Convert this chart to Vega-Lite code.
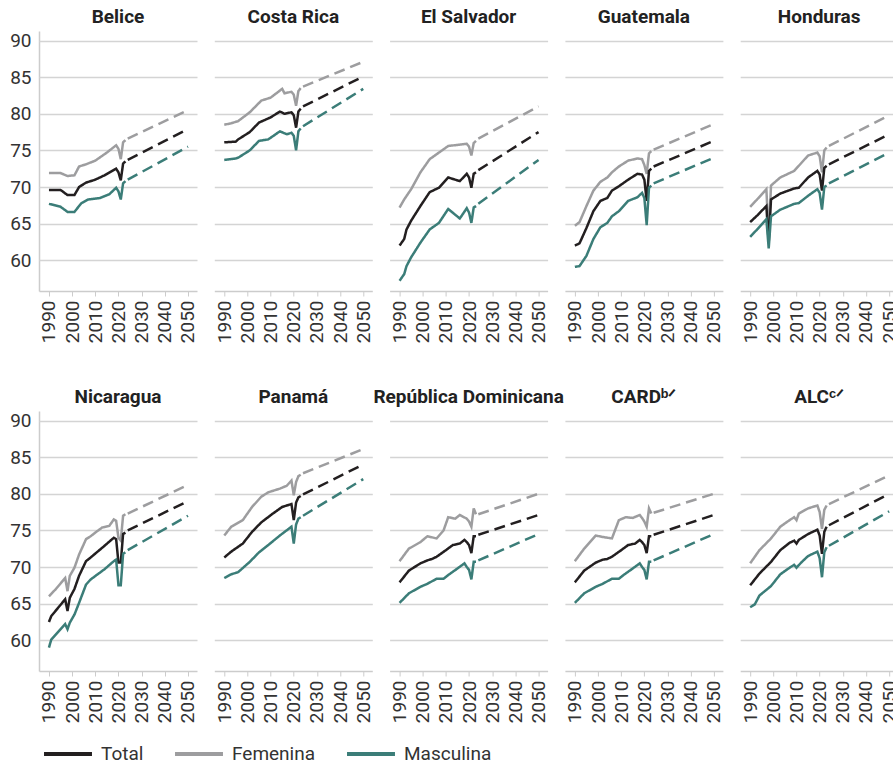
{
  "$schema": "https://vega.github.io/schema/vega-lite/v6.json",
  "background": "white",
  "padding": {"left": 9, "top": 8, "right": 5, "bottom": 5},
  "bounds": "flush",
  "data": {"values": [
    {"p":"Belice","s":"Femenina","t":"o","a":1990,"v":71.9},{"p":"Belice","s":"Femenina","t":"o","a":1995,"v":71.9},{"p":"Belice","s":"Femenina","t":"o","a":1998,"v":71.5},{"p":"Belice","s":"Femenina","t":"o","a":2001,"v":71.6},{"p":"Belice","s":"Femenina","t":"o","a":2003,"v":72.8},{"p":"Belice","s":"Femenina","t":"o","a":2006,"v":73.1},{"p":"Belice","s":"Femenina","t":"o","a":2010,"v":73.6},{"p":"Belice","s":"Femenina","t":"o","a":2015,"v":74.7},{"p":"Belice","s":"Femenina","t":"o","a":2019,"v":75.7},{"p":"Belice","s":"Femenina","t":"o","a":2020,"v":75.2},{"p":"Belice","s":"Femenina","t":"o","a":2021,"v":73.8},{"p":"Belice","s":"Femenina","t":"o","a":2022,"v":76.1},{"p":"Belice","s":"Femenina","t":"o","a":2023,"v":76.4},{"p":"Belice","s":"Femenina","t":"p","a":2024,"v":76.6},{"p":"Belice","s":"Femenina","t":"p","a":2050,"v":80.5},
    {"p":"Belice","s":"Total","t":"o","a":1990,"v":69.6},{"p":"Belice","s":"Total","t":"o","a":1995,"v":69.6},{"p":"Belice","s":"Total","t":"o","a":1998,"v":68.9},{"p":"Belice","s":"Total","t":"o","a":2001,"v":68.9},{"p":"Belice","s":"Total","t":"o","a":2003,"v":70.0},{"p":"Belice","s":"Total","t":"o","a":2006,"v":70.6},{"p":"Belice","s":"Total","t":"o","a":2010,"v":71.0},{"p":"Belice","s":"Total","t":"o","a":2014,"v":71.6},{"p":"Belice","s":"Total","t":"o","a":2019,"v":72.5},{"p":"Belice","s":"Total","t":"o","a":2020,"v":72.0},{"p":"Belice","s":"Total","t":"o","a":2021,"v":70.9},{"p":"Belice","s":"Total","t":"o","a":2022,"v":73.2},{"p":"Belice","s":"Total","t":"o","a":2023,"v":73.5},{"p":"Belice","s":"Total","t":"p","a":2024,"v":73.7},{"p":"Belice","s":"Total","t":"p","a":2050,"v":77.9},
    {"p":"Belice","s":"Masculina","t":"o","a":1990,"v":67.7},{"p":"Belice","s":"Masculina","t":"o","a":1995,"v":67.3},{"p":"Belice","s":"Masculina","t":"o","a":1998,"v":66.6},{"p":"Belice","s":"Masculina","t":"o","a":2001,"v":66.6},{"p":"Belice","s":"Masculina","t":"o","a":2004,"v":67.8},{"p":"Belice","s":"Masculina","t":"o","a":2007,"v":68.3},{"p":"Belice","s":"Masculina","t":"o","a":2012,"v":68.5},{"p":"Belice","s":"Masculina","t":"o","a":2016,"v":69.0},{"p":"Belice","s":"Masculina","t":"o","a":2019,"v":69.9},{"p":"Belice","s":"Masculina","t":"o","a":2020,"v":69.4},{"p":"Belice","s":"Masculina","t":"o","a":2021,"v":68.3},{"p":"Belice","s":"Masculina","t":"o","a":2022,"v":70.5},{"p":"Belice","s":"Masculina","t":"o","a":2023,"v":70.8},{"p":"Belice","s":"Masculina","t":"p","a":2024,"v":71.0},{"p":"Belice","s":"Masculina","t":"p","a":2050,"v":75.5},

    {"p":"Costa Rica","s":"Femenina","t":"o","a":1990,"v":78.5},{"p":"Costa Rica","s":"Femenina","t":"o","a":1993,"v":78.7},{"p":"Costa Rica","s":"Femenina","t":"o","a":1996,"v":79.0},{"p":"Costa Rica","s":"Femenina","t":"o","a":2001,"v":80.2},{"p":"Costa Rica","s":"Femenina","t":"o","a":2006,"v":81.8},{"p":"Costa Rica","s":"Femenina","t":"o","a":2010,"v":82.2},{"p":"Costa Rica","s":"Femenina","t":"o","a":2015,"v":83.4},{"p":"Costa Rica","s":"Femenina","t":"o","a":2016,"v":82.8},{"p":"Costa Rica","s":"Femenina","t":"o","a":2019,"v":83.0},{"p":"Costa Rica","s":"Femenina","t":"o","a":2020,"v":82.6},{"p":"Costa Rica","s":"Femenina","t":"o","a":2021,"v":81.1},{"p":"Costa Rica","s":"Femenina","t":"o","a":2022,"v":83.1},{"p":"Costa Rica","s":"Femenina","t":"o","a":2023,"v":83.5},{"p":"Costa Rica","s":"Femenina","t":"p","a":2024,"v":83.7},{"p":"Costa Rica","s":"Femenina","t":"p","a":2050,"v":87.1},
    {"p":"Costa Rica","s":"Total","t":"o","a":1990,"v":76.1},{"p":"Costa Rica","s":"Total","t":"o","a":1995,"v":76.2},{"p":"Costa Rica","s":"Total","t":"o","a":1996,"v":76.5},{"p":"Costa Rica","s":"Total","t":"o","a":2001,"v":77.5},{"p":"Costa Rica","s":"Total","t":"o","a":2005,"v":78.8},{"p":"Costa Rica","s":"Total","t":"o","a":2010,"v":79.5},{"p":"Costa Rica","s":"Total","t":"o","a":2014,"v":80.3},{"p":"Costa Rica","s":"Total","t":"o","a":2016,"v":80.0},{"p":"Costa Rica","s":"Total","t":"o","a":2019,"v":80.2},{"p":"Costa Rica","s":"Total","t":"o","a":2020,"v":79.8},{"p":"Costa Rica","s":"Total","t":"o","a":2021,"v":78.1},{"p":"Costa Rica","s":"Total","t":"o","a":2022,"v":80.3},{"p":"Costa Rica","s":"Total","t":"o","a":2023,"v":80.7},{"p":"Costa Rica","s":"Total","t":"p","a":2024,"v":81.0},{"p":"Costa Rica","s":"Total","t":"p","a":2050,"v":85.1},
    {"p":"Costa Rica","s":"Masculina","t":"o","a":1990,"v":73.7},{"p":"Costa Rica","s":"Masculina","t":"o","a":1995,"v":73.9},{"p":"Costa Rica","s":"Masculina","t":"o","a":1996,"v":74.0},{"p":"Costa Rica","s":"Masculina","t":"o","a":2001,"v":75.0},{"p":"Costa Rica","s":"Masculina","t":"o","a":2005,"v":76.3},{"p":"Costa Rica","s":"Masculina","t":"o","a":2009,"v":76.5},{"p":"Costa Rica","s":"Masculina","t":"o","a":2014,"v":77.6},{"p":"Costa Rica","s":"Masculina","t":"o","a":2017,"v":77.2},{"p":"Costa Rica","s":"Masculina","t":"o","a":2019,"v":77.4},{"p":"Costa Rica","s":"Masculina","t":"o","a":2020,"v":77.0},{"p":"Costa Rica","s":"Masculina","t":"o","a":2021,"v":75.0},{"p":"Costa Rica","s":"Masculina","t":"o","a":2022,"v":77.6},{"p":"Costa Rica","s":"Masculina","t":"o","a":2023,"v":78.0},{"p":"Costa Rica","s":"Masculina","t":"p","a":2024,"v":78.3},{"p":"Costa Rica","s":"Masculina","t":"p","a":2050,"v":83.4},

    {"p":"El Salvador","s":"Femenina","t":"o","a":1990,"v":67.2},{"p":"El Salvador","s":"Femenina","t":"o","a":1992,"v":68.3},{"p":"El Salvador","s":"Femenina","t":"o","a":1995,"v":69.7},{"p":"El Salvador","s":"Femenina","t":"o","a":1999,"v":72.0},{"p":"El Salvador","s":"Femenina","t":"o","a":2003,"v":73.8},{"p":"El Salvador","s":"Femenina","t":"o","a":2007,"v":74.7},{"p":"El Salvador","s":"Femenina","t":"o","a":2011,"v":75.6},{"p":"El Salvador","s":"Femenina","t":"o","a":2019,"v":75.9},{"p":"El Salvador","s":"Femenina","t":"o","a":2020,"v":75.5},{"p":"El Salvador","s":"Femenina","t":"o","a":2021,"v":74.3},{"p":"El Salvador","s":"Femenina","t":"o","a":2022,"v":76.0},{"p":"El Salvador","s":"Femenina","t":"o","a":2023,"v":76.3},{"p":"El Salvador","s":"Femenina","t":"p","a":2024,"v":76.6},{"p":"El Salvador","s":"Femenina","t":"p","a":2050,"v":81.0},
    {"p":"El Salvador","s":"Total","t":"o","a":1990,"v":62.0},{"p":"El Salvador","s":"Total","t":"o","a":1992,"v":62.9},{"p":"El Salvador","s":"Total","t":"o","a":1993,"v":64.2},{"p":"El Salvador","s":"Total","t":"o","a":1995,"v":65.4},{"p":"El Salvador","s":"Total","t":"o","a":1999,"v":67.4},{"p":"El Salvador","s":"Total","t":"o","a":2003,"v":69.3},{"p":"El Salvador","s":"Total","t":"o","a":2007,"v":69.9},{"p":"El Salvador","s":"Total","t":"o","a":2011,"v":71.3},{"p":"El Salvador","s":"Total","t":"o","a":2016,"v":70.8},{"p":"El Salvador","s":"Total","t":"o","a":2019,"v":71.8},{"p":"El Salvador","s":"Total","t":"o","a":2020,"v":71.3},{"p":"El Salvador","s":"Total","t":"o","a":2021,"v":69.9},{"p":"El Salvador","s":"Total","t":"o","a":2022,"v":71.8},{"p":"El Salvador","s":"Total","t":"o","a":2023,"v":72.0},{"p":"El Salvador","s":"Total","t":"p","a":2024,"v":72.3},{"p":"El Salvador","s":"Total","t":"p","a":2050,"v":77.5},
    {"p":"El Salvador","s":"Masculina","t":"o","a":1990,"v":57.2},{"p":"El Salvador","s":"Masculina","t":"o","a":1992,"v":58.1},{"p":"El Salvador","s":"Masculina","t":"o","a":1993,"v":59.2},{"p":"El Salvador","s":"Masculina","t":"o","a":1995,"v":60.4},{"p":"El Salvador","s":"Masculina","t":"o","a":1999,"v":62.4},{"p":"El Salvador","s":"Masculina","t":"o","a":2003,"v":64.2},{"p":"El Salvador","s":"Masculina","t":"o","a":2007,"v":65.1},{"p":"El Salvador","s":"Masculina","t":"o","a":2011,"v":67.0},{"p":"El Salvador","s":"Masculina","t":"o","a":2016,"v":65.7},{"p":"El Salvador","s":"Masculina","t":"o","a":2019,"v":67.1},{"p":"El Salvador","s":"Masculina","t":"o","a":2020,"v":66.5},{"p":"El Salvador","s":"Masculina","t":"o","a":2021,"v":65.1},{"p":"El Salvador","s":"Masculina","t":"o","a":2022,"v":67.2},{"p":"El Salvador","s":"Masculina","t":"o","a":2023,"v":67.4},{"p":"El Salvador","s":"Masculina","t":"p","a":2024,"v":67.7},{"p":"El Salvador","s":"Masculina","t":"p","a":2050,"v":73.7},

    {"p":"Guatemala","s":"Femenina","t":"o","a":1990,"v":64.7},{"p":"Guatemala","s":"Femenina","t":"o","a":1992,"v":65.2},{"p":"Guatemala","s":"Femenina","t":"o","a":1995,"v":67.4},{"p":"Guatemala","s":"Femenina","t":"o","a":1998,"v":69.5},{"p":"Guatemala","s":"Femenina","t":"o","a":2001,"v":70.7},{"p":"Guatemala","s":"Femenina","t":"o","a":2004,"v":71.3},{"p":"Guatemala","s":"Femenina","t":"o","a":2006,"v":72.0},{"p":"Guatemala","s":"Femenina","t":"o","a":2009,"v":72.8},{"p":"Guatemala","s":"Femenina","t":"o","a":2013,"v":73.6},{"p":"Guatemala","s":"Femenina","t":"o","a":2017,"v":73.9},{"p":"Guatemala","s":"Femenina","t":"o","a":2019,"v":73.8},{"p":"Guatemala","s":"Femenina","t":"o","a":2020,"v":73.0},{"p":"Guatemala","s":"Femenina","t":"o","a":2021,"v":71.8},{"p":"Guatemala","s":"Femenina","t":"o","a":2022,"v":74.6},{"p":"Guatemala","s":"Femenina","t":"o","a":2023,"v":74.9},{"p":"Guatemala","s":"Femenina","t":"p","a":2024,"v":75.1},{"p":"Guatemala","s":"Femenina","t":"p","a":2050,"v":78.6},
    {"p":"Guatemala","s":"Total","t":"o","a":1990,"v":62.0},{"p":"Guatemala","s":"Total","t":"o","a":1992,"v":62.3},{"p":"Guatemala","s":"Total","t":"o","a":1995,"v":64.4},{"p":"Guatemala","s":"Total","t":"o","a":1998,"v":66.7},{"p":"Guatemala","s":"Total","t":"o","a":2001,"v":68.1},{"p":"Guatemala","s":"Total","t":"o","a":2004,"v":68.5},{"p":"Guatemala","s":"Total","t":"o","a":2006,"v":69.5},{"p":"Guatemala","s":"Total","t":"o","a":2009,"v":70.1},{"p":"Guatemala","s":"Total","t":"o","a":2013,"v":71.0},{"p":"Guatemala","s":"Total","t":"o","a":2017,"v":71.8},{"p":"Guatemala","s":"Total","t":"o","a":2019,"v":71.7},{"p":"Guatemala","s":"Total","t":"o","a":2020,"v":71.0},{"p":"Guatemala","s":"Total","t":"o","a":2021,"v":68.1},{"p":"Guatemala","s":"Total","t":"o","a":2022,"v":72.2},{"p":"Guatemala","s":"Total","t":"o","a":2023,"v":72.5},{"p":"Guatemala","s":"Total","t":"p","a":2024,"v":72.8},{"p":"Guatemala","s":"Total","t":"p","a":2050,"v":76.3},
    {"p":"Guatemala","s":"Masculina","t":"o","a":1990,"v":59.1},{"p":"Guatemala","s":"Masculina","t":"o","a":1992,"v":59.2},{"p":"Guatemala","s":"Masculina","t":"o","a":1995,"v":60.6},{"p":"Guatemala","s":"Masculina","t":"o","a":1998,"v":62.9},{"p":"Guatemala","s":"Masculina","t":"o","a":2001,"v":64.5},{"p":"Guatemala","s":"Masculina","t":"o","a":2004,"v":65.1},{"p":"Guatemala","s":"Masculina","t":"o","a":2006,"v":66.0},{"p":"Guatemala","s":"Masculina","t":"o","a":2009,"v":66.7},{"p":"Guatemala","s":"Masculina","t":"o","a":2013,"v":68.1},{"p":"Guatemala","s":"Masculina","t":"o","a":2017,"v":68.6},{"p":"Guatemala","s":"Masculina","t":"o","a":2019,"v":69.2},{"p":"Guatemala","s":"Masculina","t":"o","a":2020,"v":68.5},{"p":"Guatemala","s":"Masculina","t":"o","a":2021,"v":64.8},{"p":"Guatemala","s":"Masculina","t":"o","a":2022,"v":69.9},{"p":"Guatemala","s":"Masculina","t":"o","a":2023,"v":70.2},{"p":"Guatemala","s":"Masculina","t":"p","a":2024,"v":70.5},{"p":"Guatemala","s":"Masculina","t":"p","a":2050,"v":74.0},

    {"p":"Honduras","s":"Femenina","t":"o","a":1990,"v":67.3},{"p":"Honduras","s":"Femenina","t":"o","a":1993,"v":68.3},{"p":"Honduras","s":"Femenina","t":"o","a":1997,"v":69.7},{"p":"Honduras","s":"Femenina","t":"o","a":1998,"v":63.1},{"p":"Honduras","s":"Femenina","t":"o","a":1999,"v":70.2},{"p":"Honduras","s":"Femenina","t":"o","a":2003,"v":71.3},{"p":"Honduras","s":"Femenina","t":"o","a":2009,"v":72.2},{"p":"Honduras","s":"Femenina","t":"o","a":2011,"v":72.9},{"p":"Honduras","s":"Femenina","t":"o","a":2015,"v":74.3},{"p":"Honduras","s":"Femenina","t":"o","a":2019,"v":74.7},{"p":"Honduras","s":"Femenina","t":"o","a":2020,"v":74.2},{"p":"Honduras","s":"Femenina","t":"o","a":2021,"v":72.0},{"p":"Honduras","s":"Femenina","t":"o","a":2022,"v":75.0},{"p":"Honduras","s":"Femenina","t":"o","a":2023,"v":75.4},{"p":"Honduras","s":"Femenina","t":"p","a":2024,"v":75.6},{"p":"Honduras","s":"Femenina","t":"p","a":2050,"v":79.8},
    {"p":"Honduras","s":"Total","t":"o","a":1990,"v":65.2},{"p":"Honduras","s":"Total","t":"o","a":1993,"v":66.1},{"p":"Honduras","s":"Total","t":"o","a":1997,"v":67.4},{"p":"Honduras","s":"Total","t":"o","a":1998,"v":62.4},{"p":"Honduras","s":"Total","t":"o","a":1999,"v":68.3},{"p":"Honduras","s":"Total","t":"o","a":2003,"v":69.1},{"p":"Honduras","s":"Total","t":"o","a":2009,"v":69.8},{"p":"Honduras","s":"Total","t":"o","a":2011,"v":69.9},{"p":"Honduras","s":"Total","t":"o","a":2015,"v":71.3},{"p":"Honduras","s":"Total","t":"o","a":2019,"v":72.2},{"p":"Honduras","s":"Total","t":"o","a":2020,"v":71.7},{"p":"Honduras","s":"Total","t":"o","a":2021,"v":69.5},{"p":"Honduras","s":"Total","t":"o","a":2022,"v":72.6},{"p":"Honduras","s":"Total","t":"o","a":2023,"v":72.9},{"p":"Honduras","s":"Total","t":"p","a":2024,"v":73.1},{"p":"Honduras","s":"Total","t":"p","a":2050,"v":77.2},
    {"p":"Honduras","s":"Masculina","t":"o","a":1990,"v":63.2},{"p":"Honduras","s":"Masculina","t":"o","a":1993,"v":64.2},{"p":"Honduras","s":"Masculina","t":"o","a":1997,"v":65.6},{"p":"Honduras","s":"Masculina","t":"o","a":1998,"v":61.6},{"p":"Honduras","s":"Masculina","t":"o","a":1999,"v":66.0},{"p":"Honduras","s":"Masculina","t":"o","a":2003,"v":66.9},{"p":"Honduras","s":"Masculina","t":"o","a":2009,"v":67.7},{"p":"Honduras","s":"Masculina","t":"o","a":2011,"v":67.8},{"p":"Honduras","s":"Masculina","t":"o","a":2015,"v":68.8},{"p":"Honduras","s":"Masculina","t":"o","a":2019,"v":69.7},{"p":"Honduras","s":"Masculina","t":"o","a":2020,"v":69.2},{"p":"Honduras","s":"Masculina","t":"o","a":2021,"v":66.9},{"p":"Honduras","s":"Masculina","t":"o","a":2022,"v":70.0},{"p":"Honduras","s":"Masculina","t":"o","a":2023,"v":70.2},{"p":"Honduras","s":"Masculina","t":"p","a":2024,"v":70.5},{"p":"Honduras","s":"Masculina","t":"p","a":2050,"v":74.7},

    {"p":"Nicaragua","s":"Femenina","t":"o","a":1990,"v":66.0},{"p":"Nicaragua","s":"Femenina","t":"o","a":1993,"v":67.0},{"p":"Nicaragua","s":"Femenina","t":"o","a":1997,"v":68.5},{"p":"Nicaragua","s":"Femenina","t":"o","a":1998,"v":66.7},{"p":"Nicaragua","s":"Femenina","t":"o","a":1999,"v":68.8},{"p":"Nicaragua","s":"Femenina","t":"o","a":2001,"v":69.9},{"p":"Nicaragua","s":"Femenina","t":"o","a":2003,"v":71.7},{"p":"Nicaragua","s":"Femenina","t":"o","a":2006,"v":73.8},{"p":"Nicaragua","s":"Femenina","t":"o","a":2008,"v":74.2},{"p":"Nicaragua","s":"Femenina","t":"o","a":2010,"v":74.7},{"p":"Nicaragua","s":"Femenina","t":"o","a":2013,"v":75.4},{"p":"Nicaragua","s":"Femenina","t":"o","a":2016,"v":75.6},{"p":"Nicaragua","s":"Femenina","t":"o","a":2018,"v":76.5},{"p":"Nicaragua","s":"Femenina","t":"o","a":2019,"v":76.3},{"p":"Nicaragua","s":"Femenina","t":"o","a":2020,"v":74.0},{"p":"Nicaragua","s":"Femenina","t":"o","a":2021,"v":73.6},{"p":"Nicaragua","s":"Femenina","t":"o","a":2022,"v":77.0},{"p":"Nicaragua","s":"Femenina","t":"o","a":2023,"v":77.2},{"p":"Nicaragua","s":"Femenina","t":"p","a":2024,"v":77.3},{"p":"Nicaragua","s":"Femenina","t":"p","a":2050,"v":81.2},
    {"p":"Nicaragua","s":"Total","t":"o","a":1990,"v":62.5},{"p":"Nicaragua","s":"Total","t":"o","a":1991,"v":63.3},{"p":"Nicaragua","s":"Total","t":"o","a":1997,"v":65.6},{"p":"Nicaragua","s":"Total","t":"o","a":1998,"v":64.0},{"p":"Nicaragua","s":"Total","t":"o","a":1999,"v":65.8},{"p":"Nicaragua","s":"Total","t":"o","a":2001,"v":67.0},{"p":"Nicaragua","s":"Total","t":"o","a":2003,"v":68.8},{"p":"Nicaragua","s":"Total","t":"o","a":2006,"v":70.8},{"p":"Nicaragua","s":"Total","t":"o","a":2008,"v":71.3},{"p":"Nicaragua","s":"Total","t":"o","a":2011,"v":72.1},{"p":"Nicaragua","s":"Total","t":"o","a":2014,"v":72.9},{"p":"Nicaragua","s":"Total","t":"o","a":2018,"v":74.0},{"p":"Nicaragua","s":"Total","t":"o","a":2019,"v":73.8},{"p":"Nicaragua","s":"Total","t":"o","a":2020,"v":70.6},{"p":"Nicaragua","s":"Total","t":"o","a":2021,"v":70.6},{"p":"Nicaragua","s":"Total","t":"o","a":2022,"v":74.5},{"p":"Nicaragua","s":"Total","t":"o","a":2023,"v":74.7},{"p":"Nicaragua","s":"Total","t":"p","a":2024,"v":75.0},{"p":"Nicaragua","s":"Total","t":"p","a":2050,"v":79.0},
    {"p":"Nicaragua","s":"Masculina","t":"o","a":1990,"v":59.0},{"p":"Nicaragua","s":"Masculina","t":"o","a":1991,"v":60.1},{"p":"Nicaragua","s":"Masculina","t":"o","a":1997,"v":62.2},{"p":"Nicaragua","s":"Masculina","t":"o","a":1998,"v":61.5},{"p":"Nicaragua","s":"Masculina","t":"o","a":1999,"v":62.4},{"p":"Nicaragua","s":"Masculina","t":"o","a":2001,"v":63.5},{"p":"Nicaragua","s":"Masculina","t":"o","a":2003,"v":65.1},{"p":"Nicaragua","s":"Masculina","t":"o","a":2006,"v":67.6},{"p":"Nicaragua","s":"Masculina","t":"o","a":2008,"v":68.3},{"p":"Nicaragua","s":"Masculina","t":"o","a":2011,"v":69.0},{"p":"Nicaragua","s":"Masculina","t":"o","a":2014,"v":69.7},{"p":"Nicaragua","s":"Masculina","t":"o","a":2018,"v":70.8},{"p":"Nicaragua","s":"Masculina","t":"o","a":2019,"v":71.0},{"p":"Nicaragua","s":"Masculina","t":"o","a":2020,"v":67.5},{"p":"Nicaragua","s":"Masculina","t":"o","a":2021,"v":67.5},{"p":"Nicaragua","s":"Masculina","t":"o","a":2022,"v":71.8},{"p":"Nicaragua","s":"Masculina","t":"o","a":2023,"v":72.0},{"p":"Nicaragua","s":"Masculina","t":"p","a":2024,"v":72.3},{"p":"Nicaragua","s":"Masculina","t":"p","a":2050,"v":77.0},

    {"p":"Panamá","s":"Femenina","t":"o","a":1990,"v":74.3},{"p":"Panamá","s":"Femenina","t":"o","a":1993,"v":75.5},{"p":"Panamá","s":"Femenina","t":"o","a":1998,"v":76.4},{"p":"Panamá","s":"Femenina","t":"o","a":2002,"v":78.2},{"p":"Panamá","s":"Femenina","t":"o","a":2006,"v":79.6},{"p":"Panamá","s":"Femenina","t":"o","a":2009,"v":80.2},{"p":"Panamá","s":"Femenina","t":"o","a":2014,"v":80.7},{"p":"Panamá","s":"Femenina","t":"o","a":2017,"v":81.1},{"p":"Panamá","s":"Femenina","t":"o","a":2019,"v":81.8},{"p":"Panamá","s":"Femenina","t":"o","a":2020,"v":79.8},{"p":"Panamá","s":"Femenina","t":"o","a":2021,"v":81.6},{"p":"Panamá","s":"Femenina","t":"o","a":2022,"v":82.4},{"p":"Panamá","s":"Femenina","t":"o","a":2023,"v":82.6},{"p":"Panamá","s":"Femenina","t":"p","a":2024,"v":82.8},{"p":"Panamá","s":"Femenina","t":"p","a":2050,"v":86.1},
    {"p":"Panamá","s":"Total","t":"o","a":1990,"v":71.3},{"p":"Panamá","s":"Total","t":"o","a":1993,"v":72.1},{"p":"Panamá","s":"Total","t":"o","a":1998,"v":73.2},{"p":"Panamá","s":"Total","t":"o","a":2002,"v":74.8},{"p":"Panamá","s":"Total","t":"o","a":2006,"v":76.1},{"p":"Panamá","s":"Total","t":"o","a":2011,"v":77.3},{"p":"Panamá","s":"Total","t":"o","a":2015,"v":78.2},{"p":"Panamá","s":"Total","t":"o","a":2019,"v":78.6},{"p":"Panamá","s":"Total","t":"o","a":2020,"v":76.4},{"p":"Panamá","s":"Total","t":"o","a":2021,"v":78.8},{"p":"Panamá","s":"Total","t":"o","a":2022,"v":79.5},{"p":"Panamá","s":"Total","t":"o","a":2023,"v":79.7},{"p":"Panamá","s":"Total","t":"p","a":2024,"v":79.9},{"p":"Panamá","s":"Total","t":"p","a":2050,"v":84.0},
    {"p":"Panamá","s":"Masculina","t":"o","a":1990,"v":68.5},{"p":"Panamá","s":"Masculina","t":"o","a":1993,"v":69.0},{"p":"Panamá","s":"Masculina","t":"o","a":1996,"v":69.3},{"p":"Panamá","s":"Masculina","t":"o","a":2001,"v":70.7},{"p":"Panamá","s":"Masculina","t":"o","a":2005,"v":72.0},{"p":"Panamá","s":"Masculina","t":"o","a":2009,"v":73.0},{"p":"Panamá","s":"Masculina","t":"o","a":2014,"v":74.3},{"p":"Panamá","s":"Masculina","t":"o","a":2019,"v":75.5},{"p":"Panamá","s":"Masculina","t":"o","a":2020,"v":73.2},{"p":"Panamá","s":"Masculina","t":"o","a":2021,"v":75.8},{"p":"Panamá","s":"Masculina","t":"o","a":2022,"v":76.6},{"p":"Panamá","s":"Masculina","t":"o","a":2023,"v":76.8},{"p":"Panamá","s":"Masculina","t":"p","a":2024,"v":77.0},{"p":"Panamá","s":"Masculina","t":"p","a":2050,"v":82.0},

    {"p":"República Dominicana","s":"Femenina","t":"o","a":1990,"v":70.8},{"p":"República Dominicana","s":"Femenina","t":"o","a":1994,"v":72.5},{"p":"República Dominicana","s":"Femenina","t":"o","a":1999,"v":73.4},{"p":"República Dominicana","s":"Femenina","t":"o","a":2002,"v":74.2},{"p":"República Dominicana","s":"Femenina","t":"o","a":2006,"v":73.9},{"p":"República Dominicana","s":"Femenina","t":"o","a":2009,"v":75.0},{"p":"República Dominicana","s":"Femenina","t":"o","a":2011,"v":76.8},{"p":"República Dominicana","s":"Femenina","t":"o","a":2014,"v":76.6},{"p":"República Dominicana","s":"Femenina","t":"o","a":2016,"v":77.1},{"p":"República Dominicana","s":"Femenina","t":"o","a":2019,"v":76.6},{"p":"República Dominicana","s":"Femenina","t":"o","a":2020,"v":76.2},{"p":"República Dominicana","s":"Femenina","t":"o","a":2021,"v":75.5},{"p":"República Dominicana","s":"Femenina","t":"o","a":2022,"v":78.0},{"p":"República Dominicana","s":"Femenina","t":"o","a":2023,"v":77.2},{"p":"República Dominicana","s":"Femenina","t":"p","a":2024,"v":77.2},{"p":"República Dominicana","s":"Femenina","t":"p","a":2050,"v":80.0},
    {"p":"República Dominicana","s":"Total","t":"o","a":1990,"v":67.9},{"p":"República Dominicana","s":"Total","t":"o","a":1994,"v":69.5},{"p":"República Dominicana","s":"Total","t":"o","a":1999,"v":70.5},{"p":"República Dominicana","s":"Total","t":"o","a":2002,"v":70.9},{"p":"República Dominicana","s":"Total","t":"o","a":2004,"v":71.1},{"p":"República Dominicana","s":"Total","t":"o","a":2006,"v":71.4},{"p":"República Dominicana","s":"Total","t":"o","a":2010,"v":72.3},{"p":"República Dominicana","s":"Total","t":"o","a":2013,"v":73.0},{"p":"República Dominicana","s":"Total","t":"o","a":2016,"v":73.2},{"p":"República Dominicana","s":"Total","t":"o","a":2018,"v":73.7},{"p":"República Dominicana","s":"Total","t":"o","a":2019,"v":73.4},{"p":"República Dominicana","s":"Total","t":"o","a":2020,"v":73.0},{"p":"República Dominicana","s":"Total","t":"o","a":2021,"v":71.9},{"p":"República Dominicana","s":"Total","t":"o","a":2022,"v":74.2},{"p":"República Dominicana","s":"Total","t":"o","a":2023,"v":74.2},{"p":"República Dominicana","s":"Total","t":"p","a":2024,"v":74.4},{"p":"República Dominicana","s":"Total","t":"p","a":2050,"v":77.1},
    {"p":"República Dominicana","s":"Masculina","t":"o","a":1990,"v":65.1},{"p":"República Dominicana","s":"Masculina","t":"o","a":1994,"v":66.4},{"p":"República Dominicana","s":"Masculina","t":"o","a":1999,"v":67.3},{"p":"República Dominicana","s":"Masculina","t":"o","a":2002,"v":67.7},{"p":"República Dominicana","s":"Masculina","t":"o","a":2006,"v":68.4},{"p":"República Dominicana","s":"Masculina","t":"o","a":2009,"v":68.4},{"p":"República Dominicana","s":"Masculina","t":"o","a":2011,"v":68.9},{"p":"República Dominicana","s":"Masculina","t":"o","a":2015,"v":69.8},{"p":"República Dominicana","s":"Masculina","t":"o","a":2018,"v":70.5},{"p":"República Dominicana","s":"Masculina","t":"o","a":2019,"v":70.0},{"p":"República Dominicana","s":"Masculina","t":"o","a":2020,"v":69.6},{"p":"República Dominicana","s":"Masculina","t":"o","a":2021,"v":68.3},{"p":"República Dominicana","s":"Masculina","t":"o","a":2022,"v":70.7},{"p":"República Dominicana","s":"Masculina","t":"o","a":2023,"v":70.7},{"p":"República Dominicana","s":"Masculina","t":"p","a":2024,"v":70.9},{"p":"República Dominicana","s":"Masculina","t":"p","a":2050,"v":74.5},

    {"p":"CARD","s":"Femenina","t":"o","a":1990,"v":70.8},{"p":"CARD","s":"Femenina","t":"o","a":1994,"v":72.5},{"p":"CARD","s":"Femenina","t":"o","a":1999,"v":74.3},{"p":"CARD","s":"Femenina","t":"o","a":2002,"v":74.1},{"p":"CARD","s":"Femenina","t":"o","a":2006,"v":73.9},{"p":"CARD","s":"Femenina","t":"o","a":2009,"v":76.4},{"p":"CARD","s":"Femenina","t":"o","a":2012,"v":76.8},{"p":"CARD","s":"Femenina","t":"o","a":2015,"v":76.7},{"p":"CARD","s":"Femenina","t":"o","a":2018,"v":77.1},{"p":"CARD","s":"Femenina","t":"o","a":2019,"v":76.7},{"p":"CARD","s":"Femenina","t":"o","a":2020,"v":76.2},{"p":"CARD","s":"Femenina","t":"o","a":2021,"v":75.5},{"p":"CARD","s":"Femenina","t":"o","a":2022,"v":78.0},{"p":"CARD","s":"Femenina","t":"o","a":2023,"v":77.3},{"p":"CARD","s":"Femenina","t":"p","a":2024,"v":77.4},{"p":"CARD","s":"Femenina","t":"p","a":2050,"v":80.0},
    {"p":"CARD","s":"Total","t":"o","a":1990,"v":67.9},{"p":"CARD","s":"Total","t":"o","a":1994,"v":69.5},{"p":"CARD","s":"Total","t":"o","a":1999,"v":70.6},{"p":"CARD","s":"Total","t":"o","a":2002,"v":71.0},{"p":"CARD","s":"Total","t":"o","a":2004,"v":71.1},{"p":"CARD","s":"Total","t":"o","a":2006,"v":71.4},{"p":"CARD","s":"Total","t":"o","a":2010,"v":72.3},{"p":"CARD","s":"Total","t":"o","a":2013,"v":73.0},{"p":"CARD","s":"Total","t":"o","a":2016,"v":73.2},{"p":"CARD","s":"Total","t":"o","a":2018,"v":73.7},{"p":"CARD","s":"Total","t":"o","a":2019,"v":73.4},{"p":"CARD","s":"Total","t":"o","a":2020,"v":73.0},{"p":"CARD","s":"Total","t":"o","a":2021,"v":71.9},{"p":"CARD","s":"Total","t":"o","a":2022,"v":74.2},{"p":"CARD","s":"Total","t":"o","a":2023,"v":74.2},{"p":"CARD","s":"Total","t":"p","a":2024,"v":74.4},{"p":"CARD","s":"Total","t":"p","a":2050,"v":77.1},
    {"p":"CARD","s":"Masculina","t":"o","a":1990,"v":65.1},{"p":"CARD","s":"Masculina","t":"o","a":1994,"v":66.4},{"p":"CARD","s":"Masculina","t":"o","a":1999,"v":67.3},{"p":"CARD","s":"Masculina","t":"o","a":2002,"v":67.7},{"p":"CARD","s":"Masculina","t":"o","a":2006,"v":68.4},{"p":"CARD","s":"Masculina","t":"o","a":2009,"v":68.4},{"p":"CARD","s":"Masculina","t":"o","a":2011,"v":68.9},{"p":"CARD","s":"Masculina","t":"o","a":2015,"v":69.8},{"p":"CARD","s":"Masculina","t":"o","a":2018,"v":70.5},{"p":"CARD","s":"Masculina","t":"o","a":2019,"v":70.0},{"p":"CARD","s":"Masculina","t":"o","a":2020,"v":69.6},{"p":"CARD","s":"Masculina","t":"o","a":2021,"v":68.3},{"p":"CARD","s":"Masculina","t":"o","a":2022,"v":70.7},{"p":"CARD","s":"Masculina","t":"o","a":2023,"v":70.7},{"p":"CARD","s":"Masculina","t":"p","a":2024,"v":70.9},{"p":"CARD","s":"Masculina","t":"p","a":2050,"v":74.5},

    {"p":"ALC","s":"Femenina","t":"o","a":1990,"v":70.5},{"p":"ALC","s":"Femenina","t":"o","a":1994,"v":72.3},{"p":"ALC","s":"Femenina","t":"o","a":1999,"v":73.9},{"p":"ALC","s":"Femenina","t":"o","a":2003,"v":75.5},{"p":"ALC","s":"Femenina","t":"o","a":2007,"v":76.4},{"p":"ALC","s":"Femenina","t":"o","a":2009,"v":76.8},{"p":"ALC","s":"Femenina","t":"o","a":2010,"v":76.4},{"p":"ALC","s":"Femenina","t":"o","a":2011,"v":77.3},{"p":"ALC","s":"Femenina","t":"o","a":2015,"v":78.0},{"p":"ALC","s":"Femenina","t":"o","a":2019,"v":78.4},{"p":"ALC","s":"Femenina","t":"o","a":2020,"v":77.5},{"p":"ALC","s":"Femenina","t":"o","a":2021,"v":75.2},{"p":"ALC","s":"Femenina","t":"o","a":2022,"v":77.8},{"p":"ALC","s":"Femenina","t":"o","a":2023,"v":78.4},{"p":"ALC","s":"Femenina","t":"p","a":2024,"v":78.6},{"p":"ALC","s":"Femenina","t":"p","a":2050,"v":82.5},
    {"p":"ALC","s":"Total","t":"o","a":1990,"v":67.5},{"p":"ALC","s":"Total","t":"o","a":1994,"v":69.1},{"p":"ALC","s":"Total","t":"o","a":1999,"v":70.7},{"p":"ALC","s":"Total","t":"o","a":2003,"v":72.3},{"p":"ALC","s":"Total","t":"o","a":2007,"v":73.3},{"p":"ALC","s":"Total","t":"o","a":2009,"v":73.6},{"p":"ALC","s":"Total","t":"o","a":2010,"v":73.2},{"p":"ALC","s":"Total","t":"o","a":2011,"v":73.7},{"p":"ALC","s":"Total","t":"o","a":2015,"v":74.5},{"p":"ALC","s":"Total","t":"o","a":2019,"v":75.1},{"p":"ALC","s":"Total","t":"o","a":2020,"v":74.3},{"p":"ALC","s":"Total","t":"o","a":2021,"v":71.8},{"p":"ALC","s":"Total","t":"o","a":2022,"v":74.8},{"p":"ALC","s":"Total","t":"o","a":2023,"v":75.5},{"p":"ALC","s":"Total","t":"p","a":2024,"v":75.7},{"p":"ALC","s":"Total","t":"p","a":2050,"v":80.0},
    {"p":"ALC","s":"Masculina","t":"o","a":1990,"v":64.5},{"p":"ALC","s":"Masculina","t":"o","a":1992,"v":64.9},{"p":"ALC","s":"Masculina","t":"o","a":1994,"v":66.1},{"p":"ALC","s":"Masculina","t":"o","a":1999,"v":67.4},{"p":"ALC","s":"Masculina","t":"o","a":2003,"v":69.0},{"p":"ALC","s":"Masculina","t":"o","a":2007,"v":69.9},{"p":"ALC","s":"Masculina","t":"o","a":2009,"v":70.3},{"p":"ALC","s":"Masculina","t":"o","a":2010,"v":69.9},{"p":"ALC","s":"Masculina","t":"o","a":2012,"v":70.6},{"p":"ALC","s":"Masculina","t":"o","a":2015,"v":71.5},{"p":"ALC","s":"Masculina","t":"o","a":2019,"v":72.1},{"p":"ALC","s":"Masculina","t":"o","a":2020,"v":71.2},{"p":"ALC","s":"Masculina","t":"o","a":2021,"v":68.6},{"p":"ALC","s":"Masculina","t":"o","a":2022,"v":72.0},{"p":"ALC","s":"Masculina","t":"o","a":2023,"v":72.7},{"p":"ALC","s":"Masculina","t":"p","a":2024,"v":72.9},{"p":"ALC","s":"Masculina","t":"p","a":2050,"v":77.6}
  ]},
  "facet": {
    "field": "p", "type": "nominal",
    "sort": ["Belice","Costa Rica","El Salvador","Guatemala","Honduras","Nicaragua","Panamá","República Dominicana","CARD","ALC"],
    "header": {
      "title": null,
      "labelFont": "Liberation Sans Narrow, Roboto, sans-serif",
      "labelFontSize": 19,
      "labelFontWeight": "bold",
      "labelColor": "#222222",
      "labelPadding": 4,
      "labelExpr": "datum.value == 'CARD' ? 'CARDᵇᐟ' : datum.value == 'ALC' ? 'ALCᶜᐟ' : datum.value"
    }
  },
  "columns": 5,
  "spacing": {"row": 120, "column": 17.3},
  "resolve": {"axis": {"x": "independent"}},
  "spec": {
    "width": 158,
    "height": 260,
    "mark": {"type": "line", "strokeWidth": 2.5},
    "encoding": {
      "x": {
        "field": "a", "type": "quantitative",
        "scale": {"domain": [1985.7, 2053.9], "nice": false, "zero": false},
        "axis": {
          "title": null, "values": [1990, 2000, 2010, 2020, 2030, 2040, 2050], "format": "d",
          "labelAngle": -90, "grid": false, "tickSize": 5, "labelPadding": 4,
          "domainColor": "#cccccc", "tickColor": "#cccccc"
        }
      },
      "y": {
        "field": "v", "type": "quantitative",
        "scale": {"domain": [55.8, 91.3], "nice": false, "zero": false},
        "axis": {
          "title": null, "values": [60, 65, 70, 75, 80, 85, 90],
          "ticks": false, "labelPadding": 8, "domainColor": "#cccccc",
          "gridColor": "#d4d4d4", "gridWidth": 1.5
        }
      },
      "color": {
        "field": "s", "type": "nominal",
        "scale": {"domain": ["Total", "Femenina", "Masculina"], "range": ["#231f20", "#9d9d9f", "#3b7d78"]},
        "legend": {"title": null}
      },
      "strokeDash": {
        "field": "t", "type": "nominal", "legend": null,
        "scale": {"domain": ["o", "p"], "range": [[1, 0], [11, 6]]}
      },
      "order": {"field": "a", "type": "quantitative"}
    }
  },
  "config": {
    "view": {"stroke": null},
    "font": "Roboto",
    "axis": {
      "labelFont": "Roboto", "labelFontSize": 19, "labelColor": "#333333", "domainWidth": 1.5
    },
    "legend": {
      "orient": "bottom", "direction": "horizontal", "offset": 2, "padding": 3,
      "symbolType": "stroke", "symbolSize": 2300, "symbolStrokeWidth": 4,
      "labelFont": "Roboto", "labelFontSize": 19, "labelColor": "#333333",
      "columnPadding": 23, "labelOffset": 7
    }
  }
}
